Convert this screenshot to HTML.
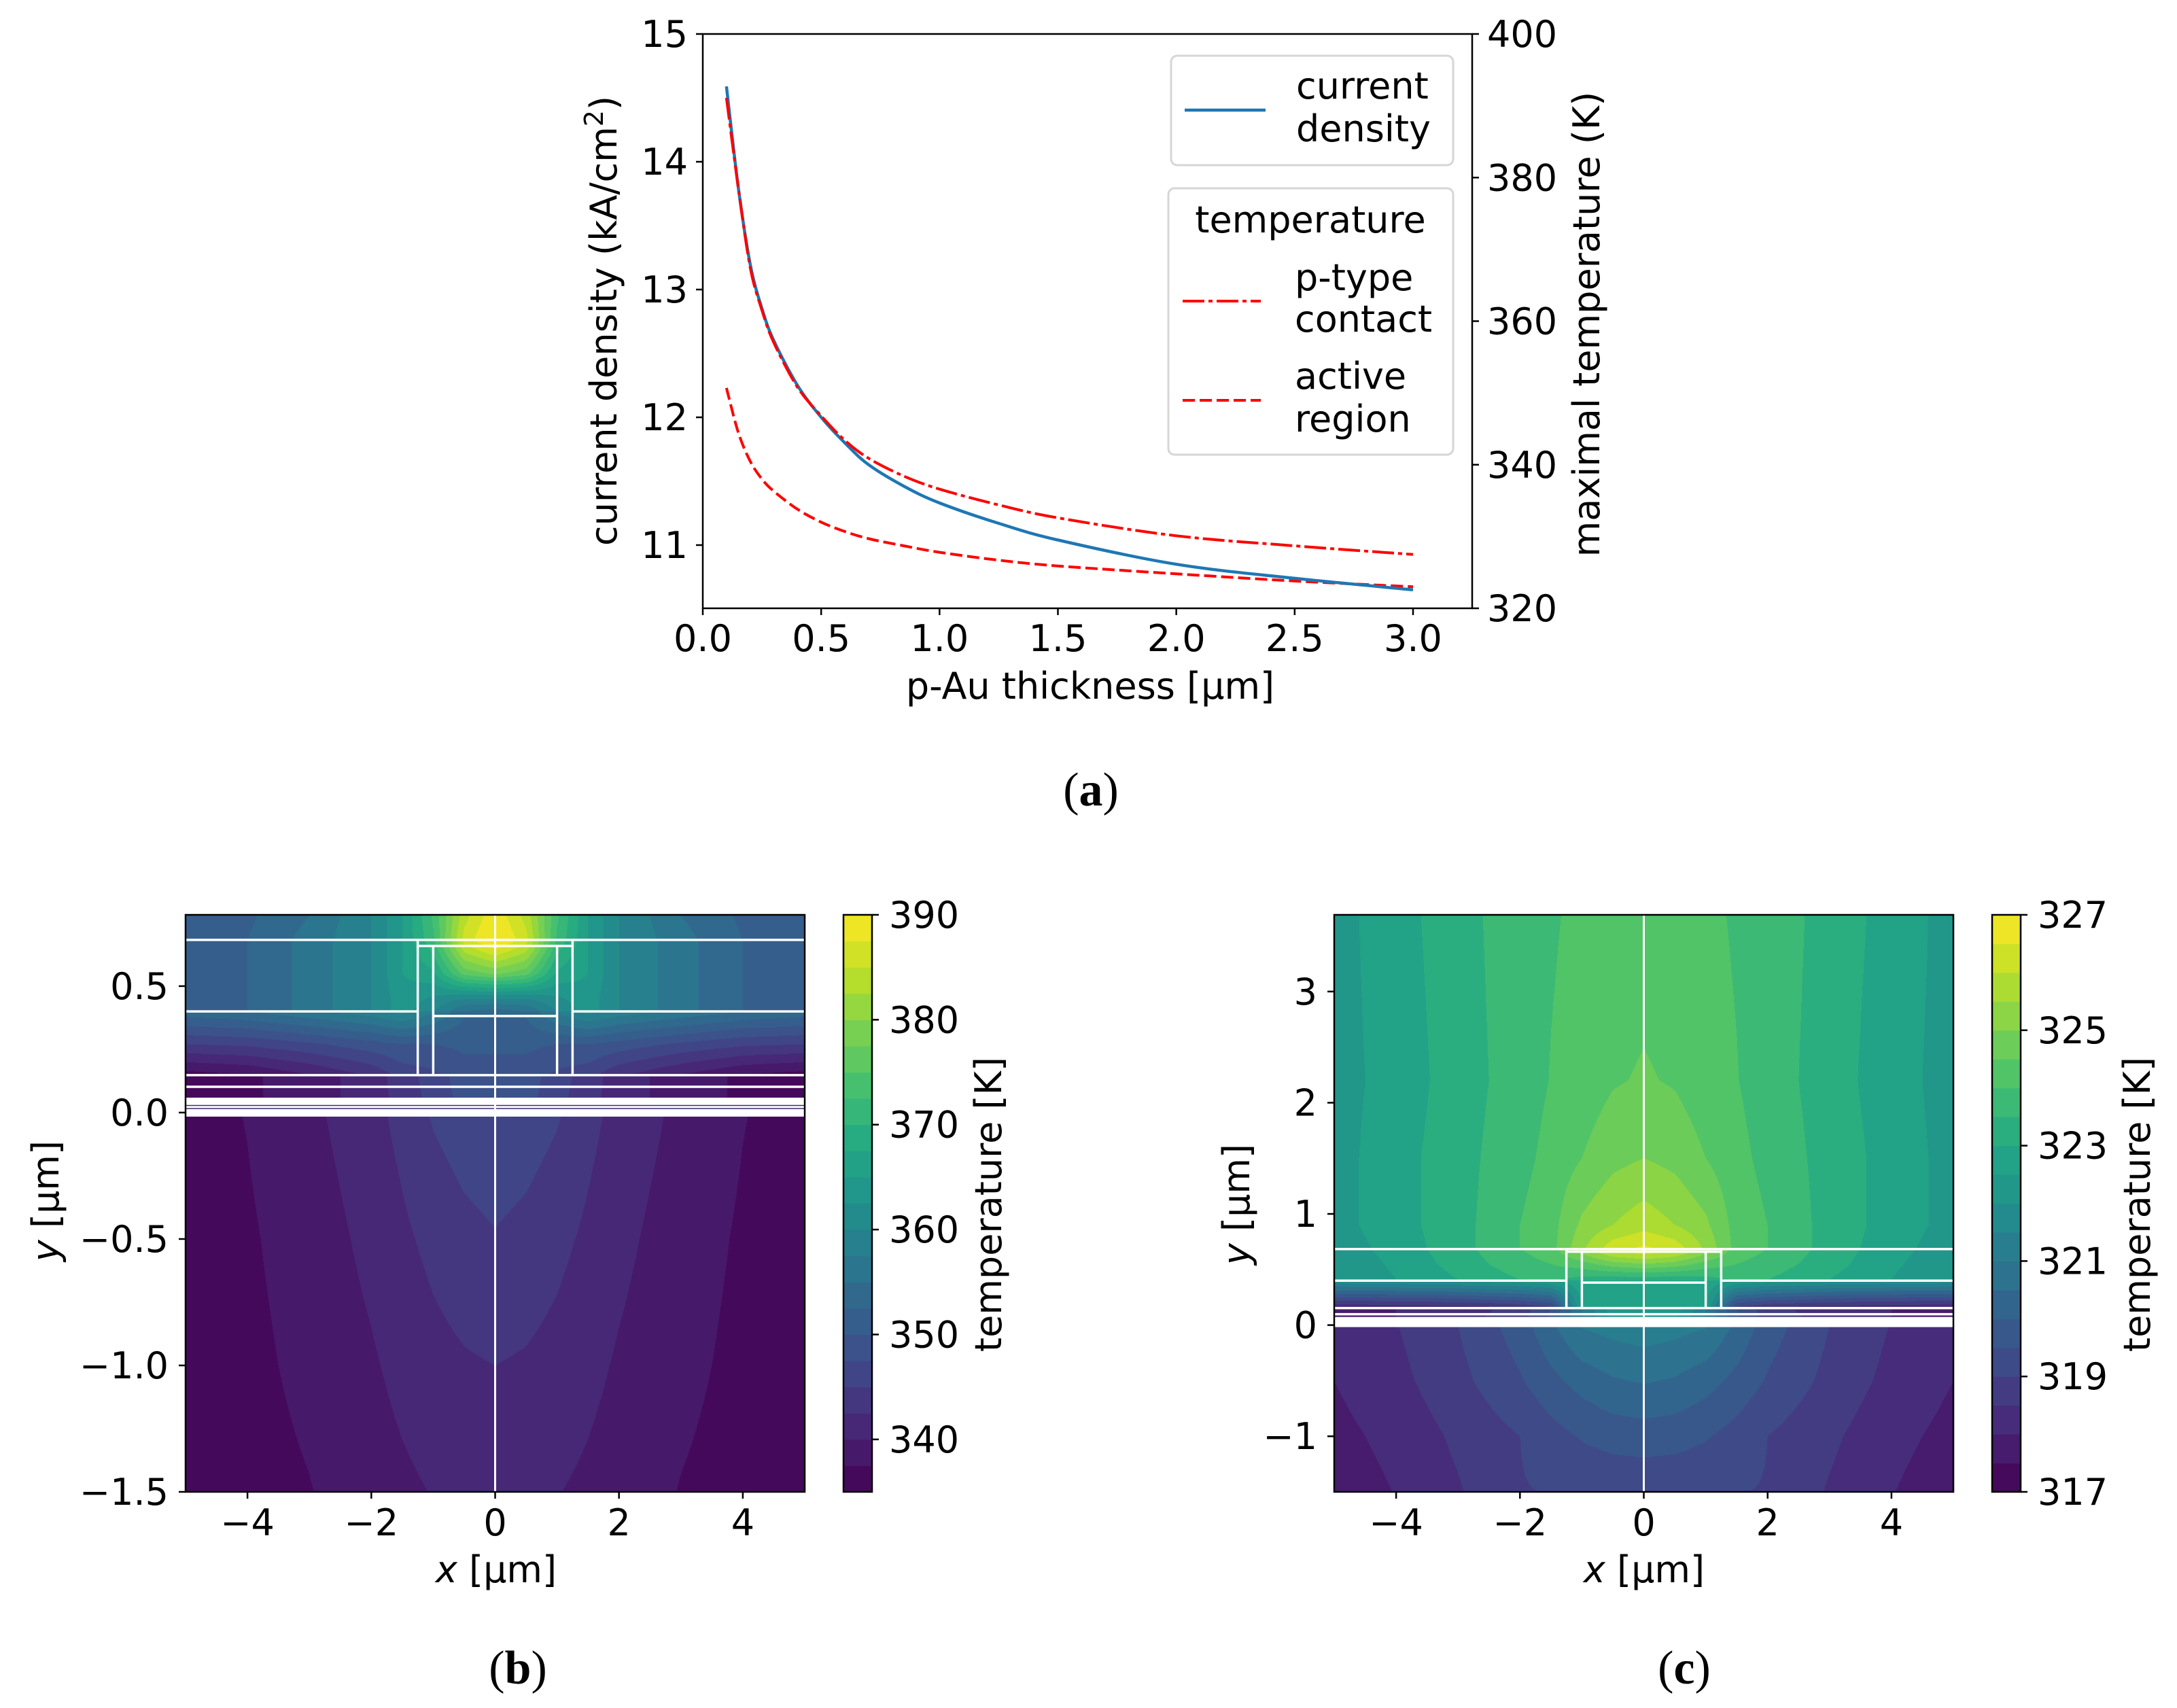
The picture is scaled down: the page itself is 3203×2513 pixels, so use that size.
<!DOCTYPE html>
<html><head><meta charset="utf-8">
<style>
html,body{margin:0;padding:0;background:#fff;}
#root{position:relative;width:3203px;height:2513px;overflow:hidden;background:#fff;}
canvas{position:absolute;}
svg{position:absolute;left:0;top:0;}
text{font-family:"DejaVu Sans","Liberation Sans",sans-serif;font-size:54px;fill:#000;}
.serif{font-family:"Liberation Serif","DejaVu Serif",serif;font-size:70px;}
</style></head>
<body>
<div id="root">
<canvas id="cvB" width="911" height="849" style="left:273px;top:1346px;"></canvas>
<canvas id="cvC" width="911" height="849" style="left:1963px;top:1346px;"></canvas>
<svg id="svg" width="3203" height="2513" viewBox="0 0 3203 2513" xmlns="http://www.w3.org/2000/svg">
  <g id="gA"></g>
  <g id="gB"></g>
  <g id="gC"></g>
  <text x="907" y="472" text-anchor="middle" transform="rotate(-90 907 472)">current density (kA/cm<tspan dy="-20" font-size="38">2</tspan><tspan dy="20">)</tspan></text>
  <text x="2353" y="477" text-anchor="middle" transform="rotate(-90 2353 477)">maximal temperature (K)</text>
  <text x="1604" y="1028" text-anchor="middle">p-Au thickness [μm]</text>
  <text class="serif" x="1605" y="1185" text-anchor="middle">(<tspan font-weight="bold">a</tspan>)</text>
  <rect x="1723" y="82" width="415" height="161" rx="9" fill="#fff" fill-opacity="0.8" stroke="#d6d6d6" stroke-width="3"/>
  <line x1="1743" y1="162" x2="1862" y2="162" stroke="#1f77b4" stroke-width="4.5"/>
  <text x="1907" y="145">current</text>
  <text x="1907" y="208">density</text>
  <rect x="1719" y="277" width="419" height="392" rx="9" fill="#fff" fill-opacity="0.8" stroke="#d6d6d6" stroke-width="3"/>
  <text x="1928" y="342" text-anchor="middle">temperature</text>
  <line x1="1740" y1="443" x2="1855" y2="443" stroke="#ff0000" stroke-width="4" stroke-dasharray="32 6 6 6"/>
  <text x="1905" y="427">p-type</text>
  <text x="1905" y="488">contact</text>
  <line x1="1740" y1="589" x2="1855" y2="589" stroke="#ff0000" stroke-width="4" stroke-dasharray="18 7"/>
  <text x="1905" y="572">active</text>
  <text x="1905" y="635">region</text>
  <text x="730" y="2328" text-anchor="middle"><tspan font-style="italic">x</tspan> [μm]</text>
  <text x="86" y="1767" text-anchor="middle" transform="rotate(-90 86 1767)"><tspan font-style="italic">y</tspan> [μm]</text>
  <text x="1473" y="1772" text-anchor="middle" transform="rotate(-90 1473 1772)">temperature [K]</text>
  <text class="serif" x="762" y="2477" text-anchor="middle">(<tspan font-weight="bold">b</tspan>)</text>
  <text x="2419" y="2328" text-anchor="middle"><tspan font-style="italic">x</tspan> [μm]</text>
  <text x="1838" y="1772" text-anchor="middle" transform="rotate(-90 1838 1772)"><tspan font-style="italic">y</tspan> [μm]</text>
  <text x="3163" y="1772" text-anchor="middle" transform="rotate(-90 3163 1772)">temperature [K]</text>
  <text class="serif" x="2478" y="2477" text-anchor="middle">(<tspan font-weight="bold">c</tspan>)</text>
</svg>
</div>
<script>
const thickness = [0.1,0.15,0.2,0.25,0.3,0.4,0.5,0.6,0.7,0.85,1.0,1.25,1.5,2.0,2.5,3.0];
const currentDensity = [14.59,13.8,13.2,12.85,12.6,12.25,12.0,11.8,11.63,11.46,11.33,11.17,11.04,10.85,10.74,10.65];
const tempContact = [391.1,378.6,367.5,361.5,357.0,350.8,346.8,343.4,340.9,338.4,336.6,334.4,332.6,330.1,328.7,327.5];
const tempActive = [350.7,344.5,340.5,338.0,336.3,333.8,332.0,330.7,329.7,328.7,327.8,326.7,325.9,324.8,323.8,323.0];
const xTicksA = [0.0,0.5,1.0,1.5,2.0,2.5,3.0];
const xTickLabelsA = ["0.0","0.5","1.0","1.5","2.0","2.5","3.0"];
const yLeftTicks = [11,12,13,14,15];
const yRightTicks = [320,340,360,380,400];

const fieldXs = [0,0.5,1,1.5,2,3,4,5];
const fieldYsB = [0.78,0.68,0.55,0.45,0.40,0.40,0.27,0.15,0.15,0.06,0.0,-0.5,-1.0,-1.5];
const fieldB = [
 [389.5,384,373,365,360,355,352,350],
 [391,386,372,365,360,356,352.5,350],
 [378,376,367,365,360,356,352.5,350],
 [360,360,362,364,360,356,352.5,350],
 [354,355,360,364,360,356,352.5,350],
 [353,353,358,361,359,357,355,354],
 [350.5,350.5,350,350,349,347,345.5,345],
 [349,349,347,346,343,340,337.5,336.5],
 [349.5,349,346,344,341,339,337,335.5],
 [349,348.5,345.8,343.6,341,339,337,335.6],
 [347,346.4,345.3,343.3,341.7,339.4,337.6,336.5],
 [344.8,344.2,343.2,342,340.7,338.6,337.2,336.2],
 [342.5,342.2,341.6,340.7,339.7,338.1,336.9,336.0],
 [341.2,341.0,340.1,339.5,338.8,337.4,336.6,335.8]
];
const levelsB = {min:335, max:390, step:2.5};
const cbarTicksB = [340,350,360,370,380,390];
const xTicksB = [-4,-2,0,2,4];
const yTicksB = [0.5,0.0,-0.5,-1.0,-1.5];
const yTickLabelsB = ["0.5","0.0","\u22120.5","\u22121.0","\u22121.5"];

const fieldYsC = [3.69,2.2,1.5,0.9,0.69,0.55,0.41,0.40,0.15,0.15,0.06,0.0,-0.5,-1.0,-1.5];
const fieldC = [
 [324.3,324.2,324.1,323.95,323.8,323.3,322.8,322.3],
 [324.55,324.45,324.2,324.02,323.75,323.25,322.7,322.3],
 [325.0,324.85,324.5,324.15,323.85,323.3,322.8,322.3],
 [325.8,325.5,325.1,324.3,324.0,323.3,322.8,322.3],
 [326.6,326.3,325.4,324.3,324.0,323.3,322.7,322.2],
 [325.0,324.8,324.3,324.0,323.8,323.2,322.6,322.1],
 [323.2,323.2,323.3,323.6,323.5,323.0,322.5,322.0],
 [323.0,323.0,322.9,322.5,322.3,322.1,322.0,321.9],
 [322.8,322.8,322.5,318.8,318.4,318.1,318.0,317.9],
 [322.5,322.3,321.0,319.5,318.7,318.2,318.0,317.9],
 [322.3,322.1,321.0,319.6,318.8,318.3,318.0,317.9],
 [321.3,321.2,321.05,320.4,319.75,319.0,318.48,318.1],
 [320.55,320.45,320.2,319.85,319.45,318.85,318.35,318.0],
 [319.75,319.7,319.55,319.3,319.0,318.6,318.15,317.85],
 [319.1,319.08,319.04,319.02,318.97,318.45,318.02,317.7]
];
const levelsC = {min:317, max:327, step:0.5};
const cbarTicksC = [317,319,321,323,325,327];
const xTicksC = [-4,-2,0,2,4];
const yTicksC = [3,2,1,0,-1];
const yTickLabelsC = ["3","2","1","0","\u22121"];

const NS = "http://www.w3.org/2000/svg";
function mk(tag, attrs, parent){ const e=document.createElementNS(NS,tag); for(const k in attrs) e.setAttribute(k,attrs[k]); parent.appendChild(e); return e; }
const VIR = [[0.0,68,1,84],[0.1,72,36,117],[0.2,65,68,135],[0.3,53,95,141],[0.4,42,120,142],[0.5,33,145,140],[0.6,34,168,132],[0.7,68,191,112],[0.8,122,209,81],[0.9,189,223,38],[1.0,253,231,37]];
function viridis(t){ t=Math.max(0,Math.min(1,t)); for(let i=0;i<VIR.length-1;i++){ const a=VIR[i],b=VIR[i+1]; if(t<=b[0]){ const f=(t-a[0])/(b[0]-a[0]); return [a[1]+(b[1]-a[1])*f,a[2]+(b[2]-a[2])*f,a[3]+(b[3]-a[3])*f]; } } return [253,231,37]; }
function rgb(c){ return "rgb("+Math.round(c[0])+","+Math.round(c[1])+","+Math.round(c[2])+")"; }
function fieldAt(ys, grid, x, y){
  const ax=Math.min(5,Math.abs(x)); let j=0; while(j<fieldXs.length-2 && ax>fieldXs[j+1]) j++;
  const fx=(ax-fieldXs[j])/(fieldXs[j+1]-fieldXs[j]);
  let i=0; while(i<ys.length-2 && (y<ys[i+1] || ys[i]===ys[i+1])) { if(y>=ys[i+1] && ys[i]!==ys[i+1]) break; i++; }
  const y0=ys[i], y1=ys[i+1]; const fy = y0===y1?0:Math.max(0,Math.min(1,(y0-y)/(y0-y1)));
  const a=grid[i][j]*(1-fx)+grid[i][j+1]*fx, b=grid[i+1][j]*(1-fx)+grid[i+1][j+1]*fx;
  return a*(1-fy)+b*fy;
}
function drawField(id, ys, grid, lv, ymin, ymax){
  const cv=document.getElementById(id), ctx=cv.getContext('2d'), W=cv.width, H=cv.height;
  const img=ctx.createImageData(W,H); const n=Math.round((lv.max-lv.min)/lv.step);
  const cols=[]; for(let k=0;k<n;k++) cols.push(viridis((k+0.5)/n));
  for(let py=0;py<H;py++){ const y=ymax-(py+0.5)/H*(ymax-ymin);
    for(let px=0;px<W;px++){ const x=-5+(px+0.5)/W*10; const T=fieldAt(ys,grid,x,y);
      let k=Math.floor((T-lv.min)/lv.step); k=Math.max(0,Math.min(n-1,k)); const c=cols[k]; const o=(py*W+px)*4;
      img.data[o]=c[0]; img.data[o+1]=c[1]; img.data[o+2]=c[2]; img.data[o+3]=255; } }
  ctx.putImageData(img,0,0);
}

(function(){
  const g=document.getElementById('gA');
  const L=1034,R=2166,T=50,B=895;
  const sx=v=>L+v*348.33, syL=v=>T+(15-v)*188, syR=v=>T+(400-v)*10.5625;
  function path(xs,ys,f){
    const P=xs.map((x,i)=>[sx(x),f(ys[i])]); let d='M'+P[0][0].toFixed(1)+','+P[0][1].toFixed(1);
    for(let i=0;i<P.length-1;i++){ const p0=P[Math.max(0,i-1)],p1=P[i],p2=P[i+1],p3=P[Math.min(P.length-1,i+2)];
      const c1=[p1[0]+(p2[0]-p0[0])/6,p1[1]+(p2[1]-p0[1])/6], c2=[p2[0]-(p3[0]-p1[0])/6,p2[1]-(p3[1]-p1[1])/6];
      d+='C'+c1[0].toFixed(1)+','+c1[1].toFixed(1)+' '+c2[0].toFixed(1)+','+c2[1].toFixed(1)+' '+p2[0].toFixed(1)+','+p2[1].toFixed(1); }
    return d; }
  let p=mk('path',{d:path(thickness,tempActive,syR),fill:'none',stroke:'#ff0000','stroke-width':4,'stroke-dasharray':'18 7'},g);
   
  p=mk('path',{d:path(thickness,currentDensity,syL),fill:'none',stroke:'#1f77b4','stroke-width':4.5},g);
   
  p=mk('path',{d:path(thickness,tempContact,syR),fill:'none',stroke:'#ff0000','stroke-width':4,'stroke-dasharray':'32 6 6 6'},g);
   
  const fr=mk('rect',{x:L,y:T,width:R-L,height:B-T,fill:'none',stroke:'#000','stroke-width':2.5},g);
   
  xTicksA.forEach((v,i)=>{ const x=sx(v);
    const t=mk('line',{x1:x,y1:B,x2:x,y2:B+10,stroke:'#000','stroke-width':2.5},g);
     
    const l=mk('text',{x:x,y:958,'text-anchor':'middle'},g); l.textContent=xTickLabelsA[i];
      });
  yLeftTicks.forEach(v=>{ const y=syL(v);
    const t=mk('line',{x1:L-10,y1:y,x2:L,y2:y,stroke:'#000','stroke-width':2.5},g);
     
    const l=mk('text',{x:1012,y:y+19,'text-anchor':'end'},g); l.textContent=String(v);
      });
  yRightTicks.forEach(v=>{ const y=syR(v);
    const t=mk('line',{x1:R,y1:y,x2:R+10,y2:y,stroke:'#000','stroke-width':2.5},g);
     
    const l=mk('text',{x:2188,y:y+19,'text-anchor':'start'},g); l.textContent=String(v);
      });
})();

function panel(gid, L, ymin, ymax, cbx, lv, cbTicks, xT, yT, yTL, ys, grid, cvid, stacked){
  drawField(cvid, ys, grid, lv, ymin, ymax);
  const g=document.getElementById(gid);
  const R=L+911, T=1346, B=2195;
  const sx=v=>L+(v+5)/10*911, sy=v=>T+(ymax-v)/(ymax-ymin)*849;
  const W='#ffffff';
  function wl(x1,y1,x2,y2,w,name){ const e=mk('line',{x1:sx(x1),y1:sy(y1),x2:sx(x2),y2:sy(y2),stroke:W,'stroke-width':w},g);
      }
  const band=mk('rect',{x:L,y:sy(stacked.bandTop),width:911,height:sy(stacked.bandBot)-sy(stacked.bandTop),fill:W},g);
   
  stacked.darkLines.forEach(yv=>{ const e=mk('line',{x1:L,y1:sy(yv),x2:R,y2:sy(yv),stroke:'#3b2a6e','stroke-width':1.5},g);
      });
  wl(-5,stacked.top,5,stacked.top,3.5,'layer-boundary-top');
  wl(-5,0.40,-1.25,0.40,3.5,'layer-boundary-mid-left');
  wl(1.25,0.40,5,0.40,3.5,'layer-boundary-mid-right');
  wl(-5,stacked.l15,5,stacked.l15,3.5,'layer-boundary-015');
  wl(-5,stacked.l10,5,stacked.l10,3.5,'layer-boundary-010');
  wl(-1.25,stacked.top,-1.25,stacked.l15,3.5,'mesa-outer-left');
  wl(1.25,stacked.top,1.25,stacked.l15,3.5,'mesa-outer-right');
  wl(-1.0,stacked.inTop,-1.0,stacked.l15,3.5,'mesa-inner-left');
  wl(1.0,stacked.inTop,1.0,stacked.l15,3.5,'mesa-inner-right');
  wl(-1.25,stacked.inTop,1.25,stacked.inTop,3.5,'mesa-inner-top');
  wl(-1.0,0.382,1.0,0.382,3.5,'mesa-inner-bottom');
  wl(0,ymax,0,ymin,3,'center-axis-line');
  const fr=mk('rect',{x:L,y:T,width:911,height:849,fill:'none',stroke:'#000','stroke-width':2.5},g);
   
  xT.forEach(v=>{ const x=sx(v);
    const t=mk('line',{x1:x,y1:B,x2:x,y2:B+10,stroke:'#000','stroke-width':2.5},g);
     
    const l=mk('text',{x:x,y:2259,'text-anchor':'middle'},g); l.textContent=(v<0?'\u2212':'')+Math.abs(v);
      });
  yT.forEach((v,i)=>{ const y=sy(v);
    const t=mk('line',{x1:L-10,y1:y,x2:L,y2:y,stroke:'#000','stroke-width':2.5},g);
     
    const l=mk('text',{x:L-25,y:y+19,'text-anchor':'end'},g); l.textContent=yTL[i];
      });
  const n=Math.round((lv.max-lv.min)/lv.step), cy=v=>B-(v-lv.min)/(lv.max-lv.min)*849;
  for(let k=0;k<n;k++){ const v0=lv.min+k*lv.step, v1=v0+lv.step;
    const r=mk('rect',{x:cbx,y:cy(v1),width:42,height:cy(v0)-cy(v1)+0.6,fill:rgb(viridis((k+0.5)/n))},g);
      }
  const cf=mk('rect',{x:cbx,y:T,width:42,height:849,fill:'none',stroke:'#000','stroke-width':2.5},g);
   
  cbTicks.forEach(v=>{ const y=cy(v);
    const t=mk('line',{x1:cbx+42,y1:y,x2:cbx+52,y2:y,stroke:'#000','stroke-width':2.5},g);
     
    const l=mk('text',{x:cbx+67,y:y+19},g); l.textContent=String(v);
      });
}
panel('gB',273,-1.5,0.782,1241,levelsB,cbarTicksB,xTicksB,yTicksB,yTickLabelsB,fieldYsB,fieldB,'cvB',
  {bandTop:0.059,bandBot:-0.016,darkLines:[0.028,0.016],top:0.683,l15:0.148,l10:0.102,inTop:0.659});
panel('gC',1963,-1.5,3.69,2931,levelsC,cbarTicksC,xTicksC,yTicksC,yTickLabelsC,fieldYsC,fieldC,'cvC',
  {bandTop:0.073,bandBot:-0.018,darkLines:[],top:0.684,l15:0.153,l10:0.098,inTop:0.66});
</script>
</body></html>
